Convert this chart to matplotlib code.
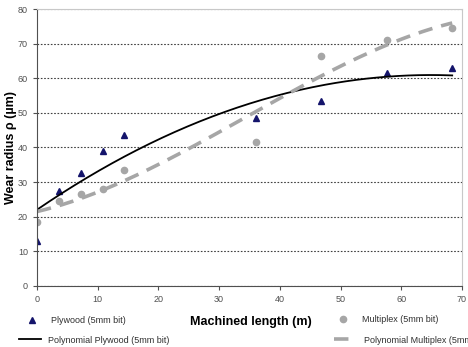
import numpy as np
import matplotlib.pyplot as plt

plt.rcParams['font.family'] = ['Liberation Sans', 'DejaVu Sans']

# data
length_m = [0, 3.6, 7.2, 10.8, 14.4, 36, 46.8, 57.6, 68.4]
plywood = [13, 27.5, 32.5, 39, 43.5, 48.5, 53.5, 61.5, 63]
multiplex = [18.5, 24.5, 26.5, 28, 33.5, 41.5, 66.5, 71, 74.5]

# polynomial trendlines (as in the spreadsheet)
xs = np.linspace(0, 68.4, 200)
ply_fit = np.polyval(np.polyfit(length_m, plywood, 2), xs)
mul_fit = np.polyval(np.polyfit(length_m, multiplex, 3), xs)

fig = plt.figure(figsize=(4.68, 3.47), dpi=100)
ax = fig.add_axes([0.079, 0.176, 0.908, 0.798])

h1, = ax.plot(length_m, plywood, '^', color='#14146b', markersize=4.2, linestyle='none',
              label='Plywood (5mm bit)')
h2, = ax.plot(length_m, multiplex, 'o', color='#a6a6a6', markersize=4.5, linestyle='none',
              label='Multiplex (5mm bit)')
h3, = ax.plot(xs, ply_fit, color='black', lw=1.3, label='Polynomial Plywood (5mm bit)')
h4, = ax.plot(xs, mul_fit, color='#a6a6a6', lw=2.6, dashes=(4, 2.5),
              label='Polynomial Multiplex (5mm bit)')

ax.set_xlim(0, 70)
ax.set_ylim(0, 80)
ax.set_xticks(range(0, 71, 10))
ax.set_yticks(range(0, 81, 10))
ax.yaxis.grid(True, linestyle=(0, (1.5, 1.5)), color='#404040', lw=0.8)
ax.set_axisbelow(True)
ax.tick_params(labelsize=6.5, labelcolor='#505050', color='#505050', direction='out', length=3)
for s in ['top', 'right']:
    ax.spines[s].set_color('#c8c8c8')
for s in ['left', 'bottom']:
    ax.spines[s].set_color('#505050')

ax.set_ylabel('Wear radius ρ (µm)', fontsize=9, fontweight='bold')
ax.yaxis.set_label_coords(-0.048, 0.5)
fig.text(0.535, 0.072, 'Machined length (m)', fontsize=9, fontweight='bold', ha='center', va='center')

leg_kw = dict(frameon=False, fontsize=6.5, handlelength=2.5, borderpad=0, handletextpad=0.8)
for h, pos in [(h1, (0.035, 0.075)), (h3, (0.03, 0.02)), (h2, (0.70, 0.08)), (h4, (0.705, 0.02))]:
    lg = fig.legend(handles=[h], loc='center left', bbox_to_anchor=pos, **leg_kw)
    for t in lg.get_texts():
        t.set_color('#303030')

fig.savefig('out.png', dpi=100)
